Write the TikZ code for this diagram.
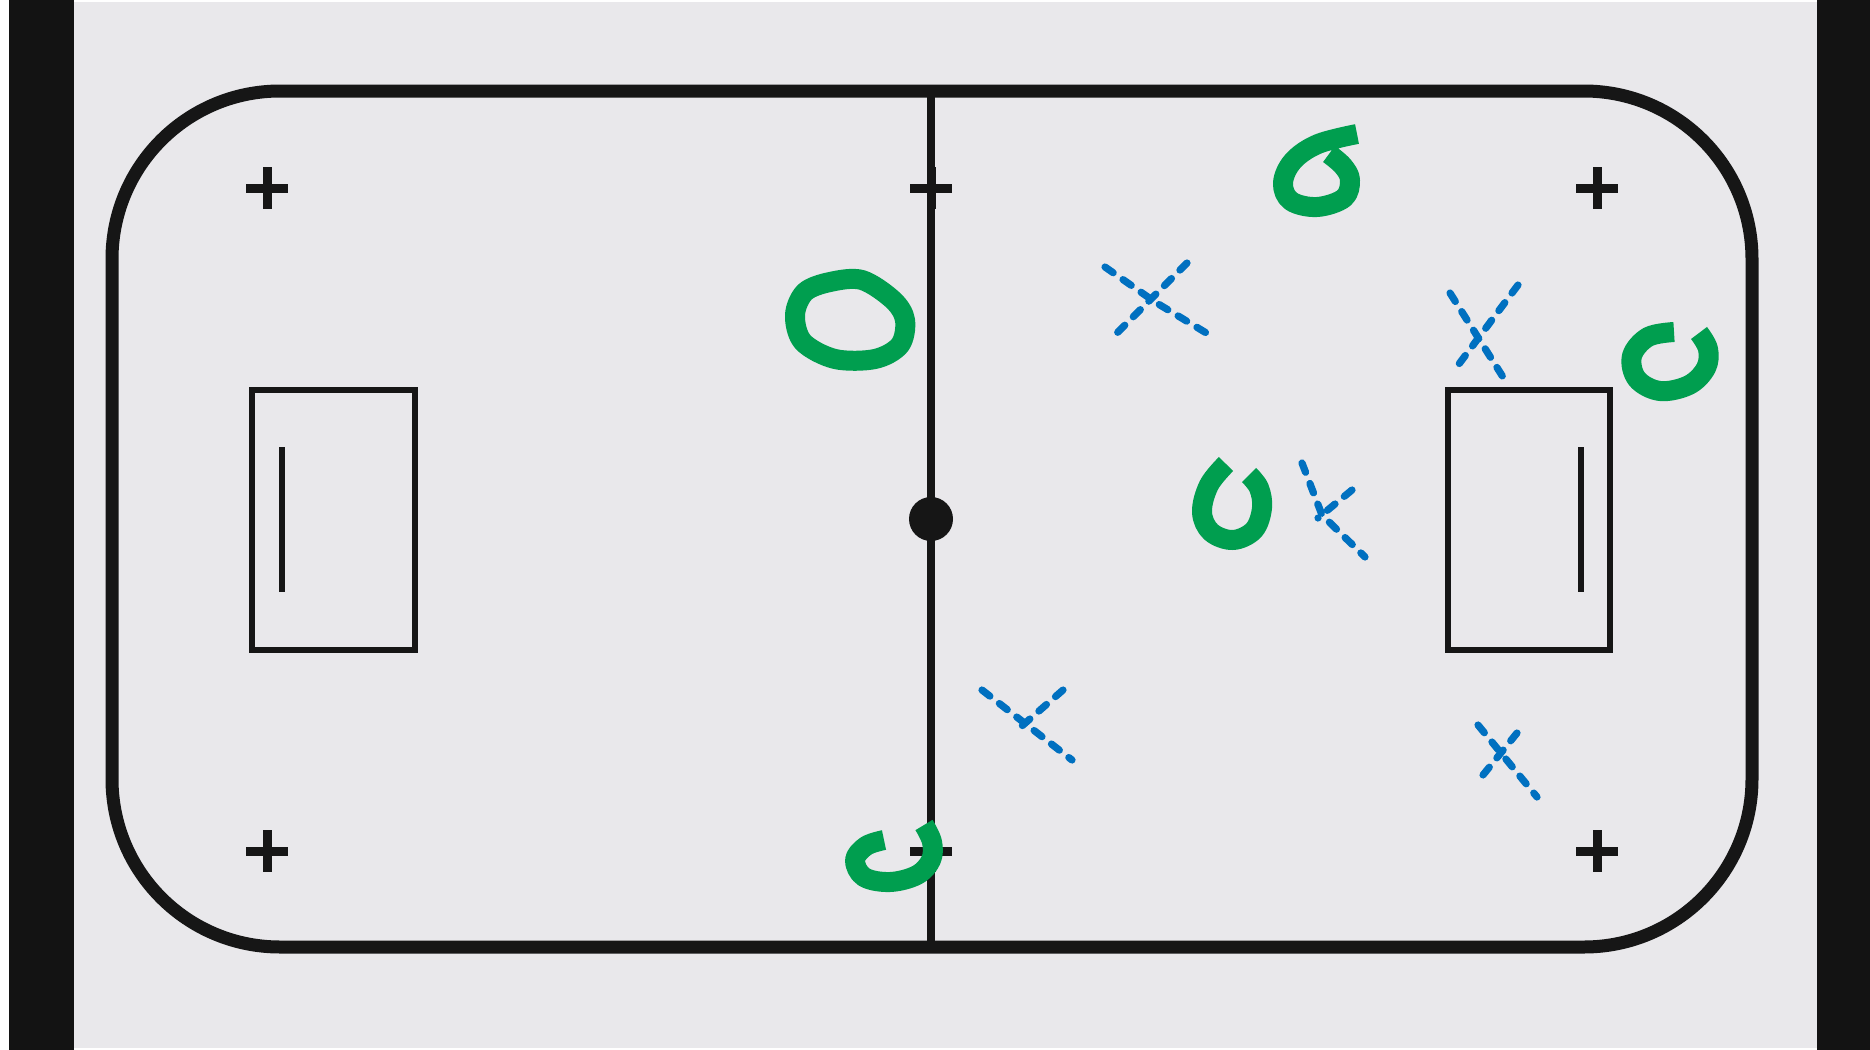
\documentclass[tikz,border=0pt]{standalone}
\usetikzlibrary{calc}
\definecolor{bgray}{HTML}{E9E8EB}
\definecolor{band}{HTML}{131313}
\definecolor{ink}{HTML}{161616}
\definecolor{mgreen}{RGB}{0,158,79}
\definecolor{mblue}{RGB}{0,112,192}
\tikzset{
  rink/.style={draw=ink, line width=6.5pt},
  midline/.style={draw=ink, line width=3.6pt},
  crease/.style={draw=ink, line width=3pt},
  spot/.style={draw=ink, line width=4.5pt},
  gmark/.style={draw=mgreen, line width=10pt, line cap=butt, line join=round},
  bmark/.style={draw=mblue, line width=3.6pt, line cap=round, dash pattern=on 5pt off 6pt},
}
\begin{document}
\begin{tikzpicture}[x=0.5pt, y=-0.5pt]
% background and side bands
\fill[white] (0,0) rectangle (1870,1050);
\useasboundingbox (0,0) rectangle (1870,1050);
\fill[bgray] (9,2) rectangle (1817,1048);
\fill[band] (9,0) rectangle (74,1050);
\fill[band] (1817,0) rectangle (1870,1050);
% rink outline
\draw[rink, rounded corners=84pt] (112,91) rectangle (1752,947);
% centre line and centre spot
\coordinate (ctop) at (931,91);
\coordinate (cbot) at (931,947);
\draw[midline] (ctop) -- (cbot);
\coordinate (cspot) at (931,519);
\fill[ink] (cspot) circle (11pt);
% face-off crosses
\foreach \n/\px/\py in {s1/267/188, s2/931/188, s3/1597/188, s4/267/851, s5/931/851, s6/1597/851}{
  \coordinate (\n) at (\px,\py);
  \draw[spot] ($(\n)+(-21,0)$) -- ($(\n)+(21,0)$);
  \draw[spot] ($(\n)+(0,-21)$) -- ($(\n)+(0,21)$);
}
% goal boxes
\draw[crease] (252,390) rectangle (415,650);
\draw[crease] (282,447) -- (282,592);
\draw[crease] (1448,390) rectangle (1610,650);
\draw[crease] (1581,447) -- (1581,592);
% green O marks
\draw[gmark] plot[smooth cycle, tension=0.55] coordinates {(862,280) (830,282) (805,292) (795,315) (803,342) (835,359) (875,359) (900,345) (905,320) (893,300)};
\draw[gmark] plot[smooth, tension=0.6] coordinates {(1357,134) (1318,144) (1293,161) (1283,183) (1291,201) (1317,207) (1344,198) (1350,180) (1343,166) (1329,154)};
\draw[gmark] plot[smooth, tension=0.6] coordinates {(1674,332) (1648,337) (1632,356) (1637,379) (1660,391) (1689,385) (1706,368) (1708,349) (1699,333)};
\draw[gmark] plot[smooth, tension=0.6] coordinates {(1226,464) (1209,485) (1202,512) (1211,532) (1233,540) (1254,530) (1262,508) (1259,488) (1249,475)};
\draw[gmark] plot[smooth, tension=0.6] coordinates {(884,840) (866,846) (855,860) (864,877) (890,882) (917,875) (931,860) (932,842) (924,825)};
% blue dashed X marks
\draw[bmark] (1105,267) -- (1155,302) -- (1213,337);
\draw[bmark] (1187,263) -- (1112,338);
\draw[bmark] (1450,293) -- (1508,385);
\draw[bmark] (1518,285) -- (1453,372);
\draw[bmark] (1302,463) -- (1322,515) -- (1365,557);
\draw[bmark] (1352,490) -- (1318,518);
\draw[bmark] (982,690) -- (1072,760);
\draw[bmark] (1063,690) -- (1015,732);
\draw[bmark] (1478,725) -- (1537,797);
\draw[bmark] (1517,733) -- (1483,775);
\end{tikzpicture}
\end{document}
